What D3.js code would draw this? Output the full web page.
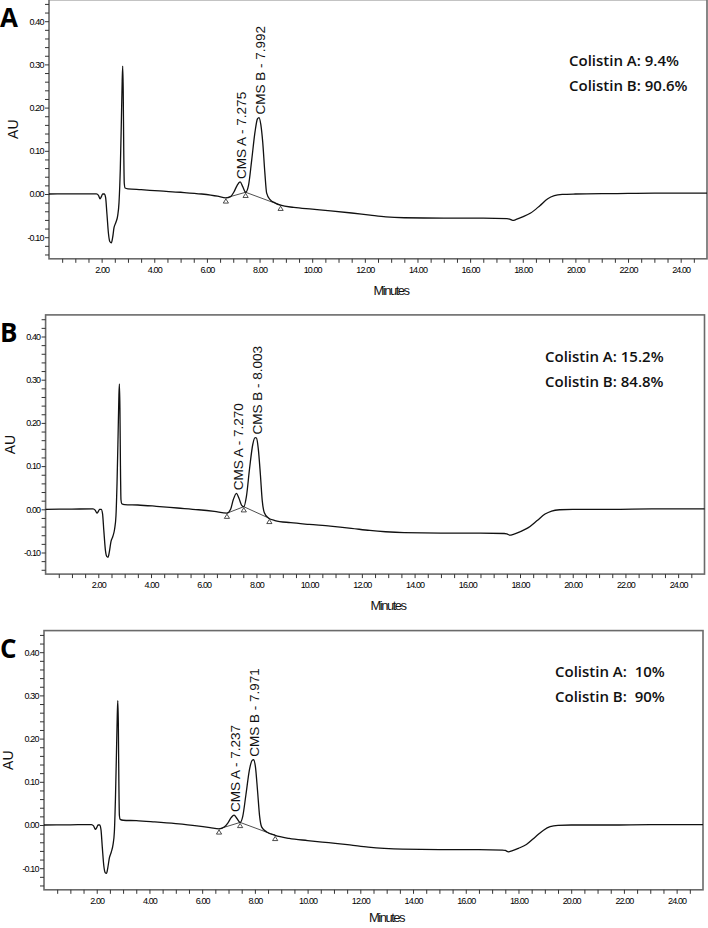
<!DOCTYPE html>
<html>
<head>
<meta charset="utf-8">
<script src="https://cdn.jsdelivr.net/npm/d3@7"></script>
<style>
  html, body { margin: 0; padding: 0; background: #fff; }
  svg { display: block; }
  .tick text { font-family: "Liberation Sans", Arial, sans-serif; font-size: 9px; letter-spacing: -0.9px; fill: #000; }
  .tick line { stroke: #333; stroke-width: 1; }
  .domain { display: none; }
</style>
</head>
<body>
<svg id="chart" width="708" height="928"></svg>
<script>
// ---------------- DATA ----------------
const xMajorTicks = [2, 4, 6, 8, 10, 12, 14, 16, 18, 20, 22, 24];          // Minutes
const yMajorTicks = [-0.10, 0.00, 0.10, 0.20, 0.30, 0.40];                // AU
const panelLetters = ["A", "B", "C"];

// Chromatogram traces: [minutes, AU]
const traceA = [[0,0],[1.0,0.0005],[1.80,0.0005],[1.88,-0.003],[1.94,-0.011],[1.99,-0.006],[2.04,0.000],[2.10,0.000],[2.15,-0.008],[2.20,-0.045],[2.26,-0.092],[2.31,-0.110],[2.37,-0.113],[2.42,-0.100],[2.47,-0.078],[2.54,-0.066],[2.61,-0.050],[2.66,-0.020],[2.71,0.060],[2.75,0.170],[2.78,0.260],[2.80,0.296],[2.82,0.240],[2.84,0.100],[2.86,0.025],[2.89,0.014],[3.0,0.012],[3.5,0.010],[4.2,0.007],[5.0,0.004],[5.8,0.000],[6.4,-0.005],[6.72,-0.009],[6.90,-0.006],[7.02,0.004],[7.14,0.019],[7.26,0.028],[7.36,0.017],[7.47,0.004],[7.58,0.020],[7.70,0.078],[7.83,0.145],[7.92,0.174],[7.98,0.177],[8.05,0.160],[8.12,0.120],[8.20,0.050],[8.27,0.002],[8.40,-0.013],[8.6,-0.021],[8.8,-0.026],[9.3,-0.031],[10.0,-0.035],[10.7,-0.039],[11.5,-0.044],[12.2,-0.049],[12.8,-0.053],[13.5,-0.055],[15.0,-0.056],[16.5,-0.056],[17.4,-0.057],[17.5,-0.058],[17.62,-0.061],[17.75,-0.059],[18.0,-0.053],[18.3,-0.044],[18.65,-0.027],[18.95,-0.011],[19.2,-0.004],[19.5,-0.001],[20.0,0.000],[21.5,0.001],[23.0,0.002],[25.0,0.002]];
const traceB = [[0,0],[1.0,0.0005],[1.80,0.001],[1.88,-0.002],[1.95,-0.009],[2.00,-0.005],[2.05,0.000],[2.11,0.000],[2.16,-0.010],[2.21,-0.050],[2.27,-0.095],[2.32,-0.109],[2.37,-0.111],[2.42,-0.098],[2.48,-0.075],[2.55,-0.063],[2.62,-0.045],[2.67,-0.015],[2.71,0.060],[2.75,0.170],[2.78,0.260],[2.80,0.290],[2.82,0.235],[2.84,0.100],[2.86,0.022],[2.89,0.013],[3.0,0.011],[3.5,0.010],[4.2,0.007],[5.0,0.003],[5.8,-0.001],[6.4,-0.005],[6.88,-0.009],[7.02,0.000],[7.12,0.022],[7.24,0.037],[7.34,0.025],[7.44,0.009],[7.52,0.006],[7.62,0.030],[7.74,0.095],[7.86,0.150],[7.95,0.166],[8.00,0.165],[8.07,0.140],[8.15,0.080],[8.22,0.020],[8.30,-0.008],[8.45,-0.020],[8.7,-0.026],[9.3,-0.031],[10.0,-0.035],[10.8,-0.039],[11.6,-0.044],[12.3,-0.049],[12.9,-0.052],[13.6,-0.054],[15.0,-0.055],[16.5,-0.055],[17.4,-0.056],[17.5,-0.057],[17.62,-0.060],[17.75,-0.058],[18.0,-0.052],[18.3,-0.043],[18.65,-0.026],[18.95,-0.011],[19.2,-0.004],[19.5,-0.001],[20.0,0.000],[21.5,0.000],[23.0,0.001],[25.0,0.001]];
const traceC = [[0,0],[1.0,0.0005],[1.80,0.001],[1.88,-0.002],[1.95,-0.010],[2.00,-0.006],[2.05,0.000],[2.11,0.000],[2.16,-0.010],[2.21,-0.050],[2.27,-0.095],[2.32,-0.110],[2.37,-0.112],[2.42,-0.099],[2.48,-0.076],[2.55,-0.063],[2.62,-0.045],[2.67,-0.015],[2.71,0.060],[2.75,0.170],[2.78,0.255],[2.80,0.288],[2.82,0.235],[2.84,0.100],[2.86,0.022],[2.89,0.013],[3.0,0.011],[3.5,0.010],[4.2,0.007],[5.0,0.003],[5.8,-0.002],[6.3,-0.006],[6.64,-0.009],[6.85,-0.004],[6.98,0.005],[7.10,0.017],[7.21,0.023],[7.32,0.015],[7.44,0.006],[7.54,0.020],[7.66,0.070],[7.80,0.130],[7.90,0.150],[7.95,0.151],[8.02,0.135],[8.10,0.080],[8.18,0.020],[8.26,-0.005],[8.45,-0.016],[8.77,-0.024],[9.3,-0.031],[10.0,-0.036],[10.8,-0.041],[11.6,-0.046],[12.3,-0.051],[12.9,-0.054],[13.6,-0.056],[15.0,-0.057],[16.5,-0.057],[17.4,-0.058],[17.5,-0.059],[17.62,-0.062],[17.75,-0.060],[18.0,-0.054],[18.3,-0.045],[18.65,-0.027],[18.95,-0.012],[19.2,-0.004],[19.5,-0.001],[20.0,0.000],[21.5,0.000],[23.0,0.001],[25.0,0.001]];

// Peak apex labels: [minutes, AU, label]
const peaksA = [[7.26, 0.028, "CMS A - 7.275"], [7.98, 0.177, "CMS B - 7.992"]];
const peaksB = [[7.24, 0.037, "CMS A - 7.270"], [7.97, 0.166, "CMS B - 8.003"]];
const peaksC = [[7.21, 0.023, "CMS A - 7.237"], [7.93, 0.151, "CMS B - 7.971"]];

// Integration baseline markers: [minutes, AU]
const marksA = [[6.72, -0.009], [7.47, 0.004], [8.80, -0.026]];
const marksB = [[6.88, -0.009], [7.52, 0.006], [8.49, -0.021]];
const marksC = [[6.64, -0.009], [7.44, 0.006], [8.77, -0.024]];

// Composition text
const ratiosA = ["Colistin A: 9.4%", "Colistin B: 90.6%"];
const ratiosB = ["Colistin A: 15.2%", "Colistin B: 84.8%"];
const ratiosC = ["Colistin A:  10%", "Colistin B:  90%"];

// ---------------- LAYOUT ----------------
const xDomain = [0, 25];
const yDomain = [-0.15, 0.45];
const panels = [
  { letter: panelLetters[0], trace: traceA, peaks: peaksA, marks: marksA, ratios: ratiosA,
    left: 49, right: 707, bottom: 258.8, textX: 569, textY: 66, titleOff: 36 },
  { letter: panelLetters[1], trace: traceB, peaks: peaksB, marks: marksB, ratios: ratiosB,
    left: 45.6, right: 704.5, bottom: 574.1, textX: 545, textY: 362, titleOff: 36 },
  { letter: panelLetters[2], trace: traceC, peaks: peaksC, marks: marksC, ratios: ratiosC,
    left: 44, right: 703, bottom: 889.8, textX: 555, textY: 677, titleOff: 32 }
];
const plotH = 259.2;

const svg = d3.select("#chart");
const fmt = d3.format(".2f");
const asciiMinus = s => s.replace("\u2212", "-");

panels.forEach(p => {
  const top = p.bottom - plotH;
  const x = d3.scaleLinear().domain(xDomain).range([p.left, p.right]);
  const y = d3.scaleLinear().domain(yDomain).range([p.bottom, top]);
  const g = svg.append("g");

  // frame
  g.append("rect")
    .attr("x", p.left).attr("y", top)
    .attr("width", p.right - p.left).attr("height", plotH)
    .attr("fill", "none").attr("stroke", "#6a6a6a").attr("stroke-width", 1.6);

  // x axis (minor every 0.5, labels on majors)
  const xVals = d3.range(1, 50).map(i => i / 2);
  g.append("g")
    .attr("transform", `translate(0,${p.bottom})`)
    .call(d3.axisBottom(x).tickValues(xVals).tickSize(4).tickPadding(4)
      .tickFormat(v => xMajorTicks.includes(v) ? fmt(v) : ""));

  // y axis (minor every 0.02, labels on majors)
  const yVals = d3.range(-7, 23).map(i => i / 50);
  g.append("g")
    .attr("transform", `translate(${p.left},0)`)
    .call(d3.axisLeft(y).tickValues(yVals).tickSize(4).tickPadding(1.5)
      .tickFormat(v => yMajorTicks.some(m => Math.abs(m - v) < 1e-6) ? asciiMinus(fmt(v)) : ""));

  // axis titles
  g.append("text")
    .attr("transform", `translate(${p.left - 31},${(top + p.bottom) / 2}) rotate(-90)`)
    .attr("text-anchor", "middle")
    .style("font-family", "'Liberation Sans', Arial, sans-serif")
    .style("font-size", "14px").style("fill", "#111")
    .text("AU");
  g.append("text")
    .attr("x", (p.left + p.right) / 2 + 13).attr("y", p.bottom + p.titleOff)
    .attr("text-anchor", "middle")
    .style("font-family", "'Liberation Sans', Arial, sans-serif")
    .style("font-size", "13px").style("letter-spacing", "-1.5px").style("fill", "#111")
    .text("Minutes");

  // integration baselines
  g.append("path")
    .datum(p.marks)
    .attr("fill", "none").attr("stroke", "#222").attr("stroke-width", 0.8)
    .attr("d", d3.line().x(d => x(d[0])).y(d => y(d[1])));

  // trace
  g.append("path")
    .datum(p.trace)
    .attr("fill", "none").attr("stroke", "#111").attr("stroke-width", 1.3)
    .attr("stroke-linejoin", "round")
    .attr("d", d3.line().x(d => x(d[0])).y(d => y(d[1])).curve(d3.curveMonotoneX));

  // triangle markers
  g.selectAll(".mk").data(p.marks).join("path")
    .attr("fill", "#fff").attr("stroke", "#222").attr("stroke-width", 0.8)
    .attr("d", d => {
      const cx = x(d[0]), cy = y(d[1]) + 1;
      return `M${cx},${cy} L${cx + 2.6},${cy + 4.2} L${cx - 2.6},${cy + 4.2} Z`;
    });

  // peak labels
  g.selectAll(".pk").data(p.peaks).join("text")
    .attr("transform", d => `translate(${x(d[0]) + 6.4},${y(d[1]) - 3}) rotate(-90)`)
    .attr("text-anchor", "start")
    .style("font-family", "'Liberation Sans', Arial, sans-serif")
    .style("font-size", "13.5px").style("fill", "#111")
    .text(d => d[2]);

  // composition text
  g.selectAll(".rt").data(p.ratios).join("text")
    .attr("x", p.textX).attr("y", (d, i) => p.textY + i * 25)
    .style("font-family", "'Open Sans', 'Noto Sans', sans-serif")
    .style("font-weight", 600).style("font-size", "15px").style("fill", "#111")
    .style("white-space", "pre")
    .text(d => d);

  // panel letter
  g.append("text")
    .attr("x", 0).attr("y", top + 27.5)
    .style("font-family", "'Open Sans', 'Noto Sans', sans-serif")
    .style("font-weight", 700).style("font-size", "26px").style("fill", "#000")
    .text(p.letter);
});
</script>
</body>
</html>
